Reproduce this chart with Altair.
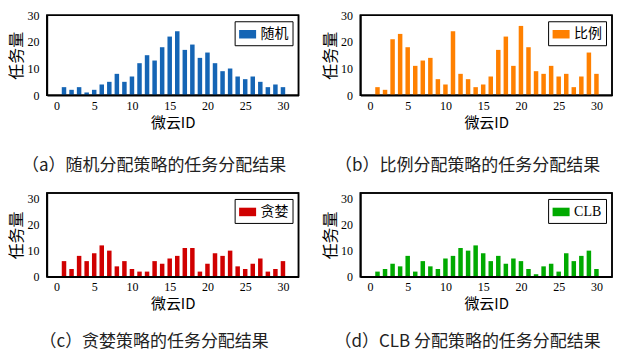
import altair as alt
import pandas as pd

ids = list(range(1, 31))
random_vals = [3, 2, 3, 1, 2, 4, 5, 8, 5, 7, 12, 15, 13, 18, 22, 24, 17, 19, 14, 16, 12, 9, 10, 7, 6, 7, 5, 3, 4, 3]
prop_vals = [3, 2, 21, 23, 18, 11, 13, 14, 6, 4, 24, 8, 6, 3, 4, 7, 17, 22, 11, 26, 18, 9, 8, 11, 7, 8, 3, 7, 16, 8]
greedy_vals = [6, 3, 8, 6, 9, 12, 10, 4, 6, 3, 2, 2, 6, 5, 7, 8, 11, 11, 2, 5, 9, 8, 10, 4, 3, 5, 7, 2, 3, 6]
clb_vals = [2, 3, 5, 4, 8, 2, 6, 4, 3, 7, 8, 11, 10, 12, 9, 6, 8, 5, 7, 6, 3, 1, 4, 5, 2, 9, 6, 8, 10, 3]

series_names = ["随机", "比例", "贪婪", "CLB"]
colors = ["#1565B5", "#FF8000", "#D00000", "#00AA00"]
captions = ["（a）随机分配策略的任务分配结果", "（b）比例分配策略的任务分配结果",
            "（c）贪婪策略的任务分配结果", "（d）CLB 分配策略的任务分配结果"]
x_ticks = [0, 5, 10, 15, 20, 25, 30]
y_ticks = [0, 10, 20, 30]

NUM_FONT = "Liberation Serif"
CJK_FONT = "Noto Sans CJK SC"
X_DOMAIN = [-0.6, 31.4]
W = 252


def panel(vals, name, color, caption, ymax, h, cap_offset):
    df = pd.DataFrame({"id": ids, "v": vals, "s": [name] * len(ids)})
    xs = alt.Scale(domain=X_DOMAIN, nice=False)
    ys = alt.Scale(domain=[0, ymax], nice=False)
    bars = alt.Chart(df).mark_bar(size=4.5).encode(
        x=alt.X("id:Q", scale=xs,
                axis=alt.Axis(values=x_ticks, title="微云ID", labelFont=NUM_FONT,
                              labelFontSize=12, titleFont=CJK_FONT, titleFontSize=15,
                              titleFontWeight="normal", ticks=False, labelPadding=5,
                              titlePadding=4, grid=False, domain=True,
                              domainColor="#000000", domainWidth=1.5, domainOpacity=1)),
        y=alt.Y("v:Q", scale=ys,
                axis=alt.Axis(values=y_ticks, title="任务量", labelFont=NUM_FONT,
                              labelFontSize=12, titleFont=CJK_FONT, titleFontSize=16,
                              titleFontWeight="normal", ticks=False, labelPadding=8,
                              titlePadding=2, grid=False, domain=True,
                              domainColor="#000000", domainWidth=1.5, domainOpacity=1)),
        color=alt.Color("s:N", scale=alt.Scale(domain=[name], range=[color]),
                        legend=alt.Legend(title=None, orient="top-right", strokeColor="black",
                                          fillColor="white", padding=4, offset=6,
                                          symbolType="M-1,-0.5H1V0.5H-1Z", symbolSize=290,
                                          symbolStrokeWidth=0, symbolOpacity=1,
                                          labelFont=CJK_FONT if name != "CLB" else NUM_FONT,
                                          labelFontSize=14, labelColor="black")),
    )
    frame = alt.Chart(pd.DataFrame({"k": [0]})).mark_rect(
        fill="transparent", stroke="#000000", strokeWidth=1.5, strokeOpacity=1
    ).encode(x=alt.value(0), x2=alt.value(W), y=alt.value(0), y2=alt.value(h))
    return alt.layer(bars, frame).properties(
        width=W, height=h,
        title=alt.TitleParams(caption, orient="bottom", font=CJK_FONT, fontSize=17,
                              fontWeight="normal", color="#222222", offset=cap_offset,
                              frame="bounds", anchor="middle"),
    )


a = panel(random_vals, series_names[0], colors[0], captions[0], 30, 80, 28)
b = panel(prop_vals, series_names[1], colors[1], captions[1], 30, 80, 28)
c = panel(greedy_vals, series_names[2], colors[2], captions[2], 32, 84, 22)
d = panel(clb_vals, series_names[3], colors[3], captions[3], 32, 84, 22)

chart = alt.vconcat(
    alt.hconcat(a, b, spacing=21).resolve_scale(color="independent"),
    alt.hconcat(c, d, spacing=21).resolve_scale(color="independent"),
    spacing=16,
).resolve_scale(color="independent").configure(
    padding={"left": 0, "top": 0, "right": 0, "bottom": 0}, background="white",
    view=alt.ViewConfig(stroke="#000000", strokeWidth=1.5),
)

chart.save("out.html", embed_options={"renderer": "svg", "actions": False})
